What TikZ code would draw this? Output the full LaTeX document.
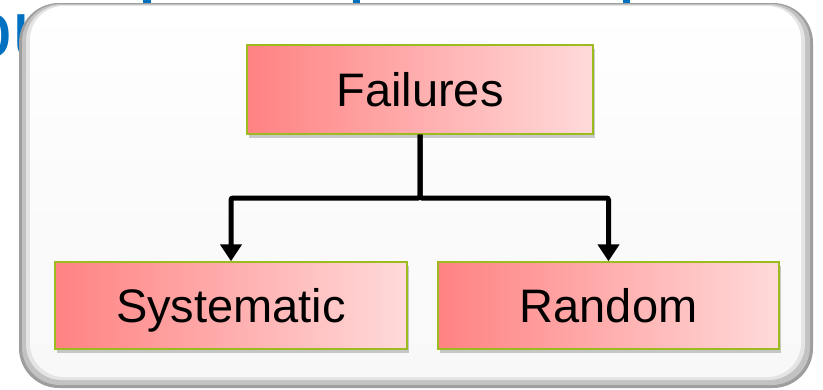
\documentclass[tikz,border=0pt]{standalone}
\usepackage{fontspec}
\setmainfont{Liberation Sans}
\usetikzlibrary{arrows.meta,shadows}

\definecolor{titleblue}{HTML}{0070C0}
\definecolor{boxedge}{HTML}{9BBB1E}
\definecolor{pinkL}{HTML}{FF8282}
\definecolor{pinkR}{HTML}{FFDADA}
\definecolor{rimdark}{HTML}{9E9E9E}
\definecolor{rimmid}{HTML}{C2C2C2}
\definecolor{rimlight}{HTML}{E4E4E4}
\definecolor{panelfill}{HTML}{F8F8F8}

\tikzset{
  catbox/.style={draw=boxedge, line width=1.4pt, left color=pinkL, right color=pinkR,
    inner sep=0pt, text height=34pt, text depth=0pt,
    font=\fontsize{47}{47}\selectfont,
    drop shadow={shadow xshift=2pt, shadow yshift=-4pt, fill=black, opacity=0.2}},
  branch/.style={line width=5pt, draw=black, rounded corners=2pt,
    -{Triangle[width=21pt,length=17pt]}},
}

\begin{document}
\begin{tikzpicture}[x=1pt,y=-1pt]
\clip (0,0) rectangle (823,389);
\fill[white] (0,0) rectangle (823,389);

% heading lettering partly hidden behind the panel
\node[anchor=base west, inner sep=0pt, text=titleblue,
      font=\fontsize{81}{81}\selectfont] (heading) at (-33,57) {ou};
\fill[titleblue] (143,-2) rectangle (151,4);
\fill[titleblue] (353,-2) rectangle (360,5);
\fill[titleblue] (623,-2) rectangle (630,5);

% bevelled panel
\fill[rimdark,  rounded corners=40pt] (19,3) rectangle (813,388);
\fill[rimmid,   rounded corners=38pt] (22,4) rectangle (810,385);
\fill[rimlight, rounded corners=36pt] (26,5) rectangle (805,380);
\shade[rounded corners=34pt, top color=white, bottom color=panelfill, middle color=panelfill!60!white]
  (30,6) rectangle (801,377);

% category boxes
\node[catbox, minimum width=346pt, minimum height=89pt] (fail) at (420,89.5) {Failures};
\node[catbox, minimum width=352pt, minimum height=87pt] (sys)  at (231,305.5) {Systematic};
\node[catbox, minimum width=341pt, minimum height=87pt] (rand) at (608.5,305.5) {Random};

% branching connectors
\coordinate (split) at (420,198);
\draw[branch] (fail.south) -- (split) -| (sys.north);
\draw[branch] (fail.south) -- (split) -| (rand.north);
\end{tikzpicture}
\end{document}
